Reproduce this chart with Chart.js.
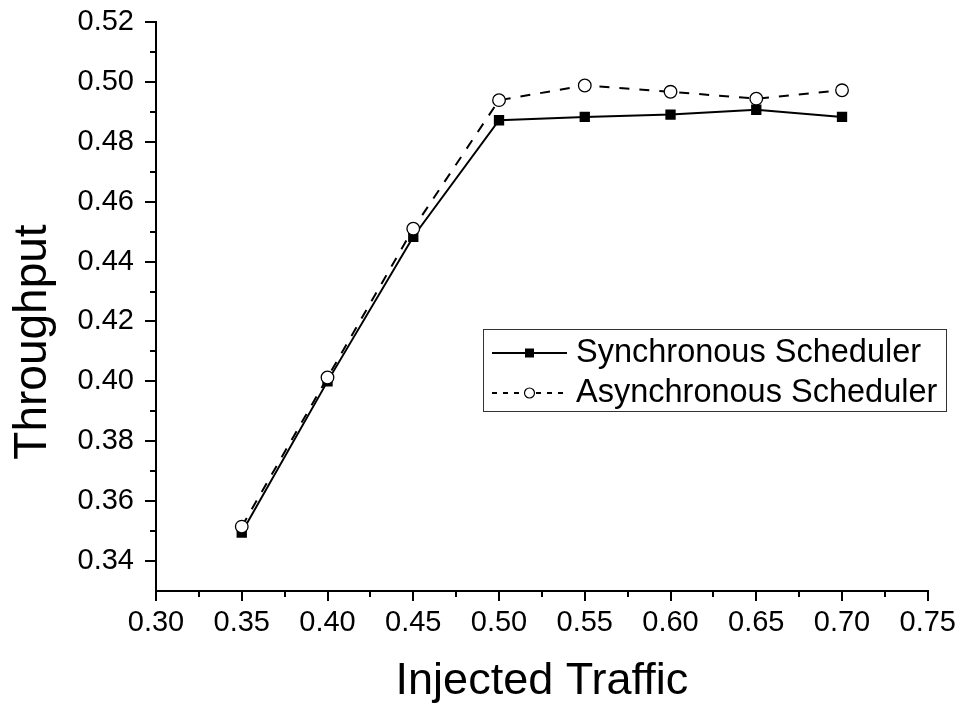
<!DOCTYPE html>
<html><head><meta charset="utf-8">
<script src="https://cdn.jsdelivr.net/npm/chart.js"></script>
<style>html,body{margin:0;padding:0;background:#fff}canvas{display:block}</style>
</head><body>
<canvas id="c" width="961" height="707"></canvas>
<script>
// ---- data ----
const injectedTraffic = [0.35, 0.40, 0.45, 0.50, 0.55, 0.60, 0.65, 0.70];
const syncThroughput  = [0.3495, 0.400, 0.4483, 0.4872, 0.4883, 0.4891, 0.4907, 0.4883];
const asyncThroughput = [0.3515, 0.4013, 0.4510, 0.4939, 0.4988, 0.4967, 0.4944, 0.4972];
const seriesLabels = ['Synchronous Scheduler', 'Asynchronous Scheduler'];
const xTicks = [0.30, 0.35, 0.40, 0.45, 0.50, 0.55, 0.60, 0.65, 0.70, 0.75];
const yTicks = [0.34, 0.36, 0.38, 0.40, 0.42, 0.44, 0.46, 0.48, 0.50, 0.52];
const xTitle = 'Injected Traffic';
const yTitle = 'Throughput';

const FONT = "'Liberation Sans', Arial, Helvetica, sans-serif";

const toPoints = (ys) => injectedTraffic.map((x, i) => ({x: x, y: ys[i]}));

const minorTicks = {
  id: 'minorTicks',
  afterDraw(chart) {
    const {ctx, scales: {x, y}} = chart;
    ctx.save();
    ctx.strokeStyle = '#000';
    ctx.lineWidth = 2;
    for (let i = 0; i < xTicks.length - 1; i++) {
      const px = Math.round(x.getPixelForValue((xTicks[i] + xTicks[i + 1]) / 2));
      ctx.beginPath(); ctx.moveTo(px, x.top); ctx.lineTo(px, x.top + 6); ctx.stroke();
    }
    for (let i = 0; i < yTicks.length - 1; i++) {
      const py = Math.round(y.getPixelForValue((yTicks[i] + yTicks[i + 1]) / 2));
      ctx.beginPath(); ctx.moveTo(y.right, py); ctx.lineTo(y.right - 6, py); ctx.stroke();
    }
    ctx.restore();
  }
};

const yAxisTitle = {
  id: 'yAxisTitle',
  afterDraw(chart, args, opts) {
    const {ctx} = chart;
    ctx.save();
    ctx.translate(opts.x, opts.y);
    ctx.rotate(-Math.PI / 2);
    ctx.font = opts.fontSize + 'px ' + FONT;
    ctx.fillStyle = '#000';
    ctx.textAlign = 'center';
    ctx.textBaseline = 'middle';
    ctx.fillText(yTitle, 0, 0);
    ctx.restore();
  }
};

const boxLegend = {
  id: 'boxLegend',
  afterDraw(chart, args, opts) {
    const {ctx} = chart;
    ctx.save();
    ctx.strokeStyle = '#333';
    ctx.lineWidth = 1;
    ctx.strokeRect(opts.left + 0.5, opts.top + 0.5, opts.width, opts.height);
    ctx.font = opts.fontSize + 'px ' + FONT;
    ctx.fillStyle = '#000';
    ctx.textBaseline = 'middle';
    const ds = [chart.data.datasets[1], chart.data.datasets[0]];
    ds.forEach((d, i) => {
      const cy = opts.top + opts.rowTop + i * opts.rowGap;
      const x0 = opts.left + opts.lineStart, x1 = opts.left + opts.lineEnd;
      const mx = (x0 + x1) / 2;
      ctx.beginPath();
      ctx.strokeStyle = '#000';
      ctx.lineWidth = 2;
      ctx.setLineDash(d.borderDash && d.borderDash.length ? [5, 6] : []);
      ctx.moveTo(x0, cy); ctx.lineTo(x1, cy); ctx.stroke();
      ctx.setLineDash([]);
      if (d.pointStyle === 'rect') {
        ctx.fillStyle = '#000';
        ctx.fillRect(mx - 4.5, cy - 4.5, 9, 9);
      } else {
        ctx.beginPath();
        ctx.arc(mx, cy, 5, 0, Math.PI * 2);
        ctx.fillStyle = '#fff'; ctx.fill();
        ctx.lineWidth = 1.2; ctx.strokeStyle = '#000'; ctx.stroke();
      }
      ctx.fillStyle = '#000';
      ctx.fillText(d.label, opts.left + opts.textStart, cy);
    });
    ctx.restore();
  }
};

new Chart(document.getElementById('c'), {
  type: 'line',
  data: {
    datasets: [
      {
        label: seriesLabels[1],
        data: toPoints(asyncThroughput),
        order: 0,
        borderColor: '#000',
        borderWidth: 2,
        borderDash: [10, 10],
        pointStyle: 'circle',
        pointRadius: 6.3,
        pointBackgroundColor: '#fff',
        pointBorderColor: '#000',
        pointBorderWidth: 1.3,
        tension: 0,
        fill: false
      },
      {
        label: seriesLabels[0],
        data: toPoints(syncThroughput),
        order: 1,
        borderColor: '#000',
        borderWidth: 2,
        pointStyle: 'rect',
        pointRadius: 7.3,
        pointBackgroundColor: '#000',
        pointBorderColor: '#000',
        pointBorderWidth: 0,
        tension: 0,
        fill: false
      }
    ]
  },
  options: {
    responsive: false,
    animation: false,
    events: [],
    layout: {padding: {left: 0, right: 33, top: 22, bottom: 0}},
    plugins: {
      legend: {display: false},
      tooltip: {enabled: false},
      yAxisTitle: {x: 33, y: 342, fontSize: 46},
      boxLegend: {left: 483, top: 329, width: 463, height: 82, rowTop: 24, rowGap: 40,
                  lineStart: 9, lineEnd: 84, textStart: 93, fontSize: 32.5}
    },
    scales: {
      x: {
        type: 'linear',
        min: 0.30, max: 0.75,
        afterFit(s) { s.height = 116; },
        afterBuildTicks(s) { s.ticks = xTicks.map(v => ({value: v})); },
        grid: {display: true, drawOnChartArea: false, drawTicks: true, tickLength: 10, color: '#000', lineWidth: 2},
        border: {display: true, color: '#000', width: 2},
        ticks: {color: '#000', padding: 5, maxRotation: 0, autoSkip: false,
                font: {family: FONT, size: 29}, callback: v => v.toFixed(2)},
        title: {display: true, text: xTitle, color: '#000', padding: {top: 0, bottom: 0},
                font: {family: FONT, size: 45, lineHeight: 1.15}}
      },
      y: {
        type: 'linear',
        min: 0.33, max: 0.52,
        afterFit(s) { s.width = 156; s.paddingTop = 0; s.paddingBottom = 0; },
        afterBuildTicks(s) { s.ticks = yTicks.map(v => ({value: v})); },
        grid: {display: true, drawOnChartArea: false, drawTicks: true, tickLength: 11, color: '#000', lineWidth: 2},
        border: {display: true, color: '#000', width: 2},
        ticks: {color: '#000', padding: 11, autoSkip: false,
                font: {family: FONT, size: 29}, callback: v => v.toFixed(2)},
        title: {display: false}
      }
    }
  },
  plugins: [minorTicks, yAxisTitle, boxLegend]
});
</script>
</body></html>
